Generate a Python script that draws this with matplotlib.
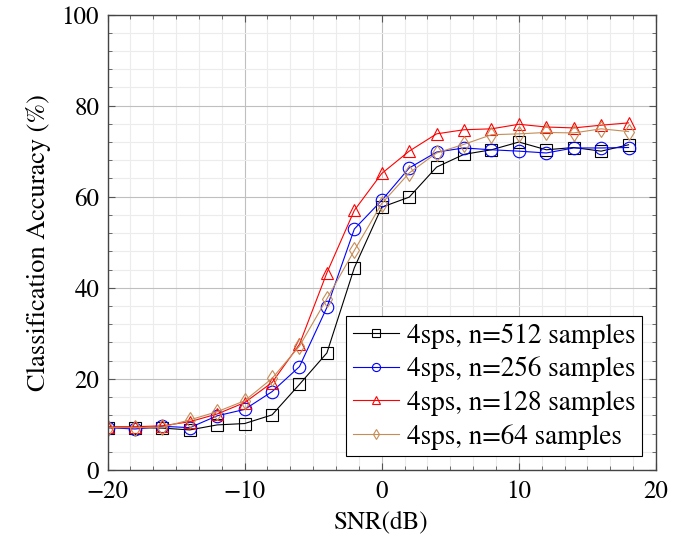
import numpy as np
import matplotlib.pyplot as plt
from matplotlib.ticker import MultipleLocator

plt.rcParams['font.family'] = ['STIXGeneral', 'DejaVu Serif']
plt.rcParams['mathtext.fontset'] = 'stix'

# SNR 取值 (dB)
snr = [-20, -18, -16, -14, -12, -10, -8, -6, -4, -2, 0, 2, 4, 6, 8, 10, 12, 14, 16, 18]

# 各样本长度下的分类准确率 (%)
acc_512 = [9.3, 9.3, 9.2, 8.8, 9.9, 10.2, 12.1, 18.8, 25.7, 44.4, 57.7, 59.9, 66.5, 69.3, 70.3, 72.0, 70.3, 70.8, 70.0, 71.4]
acc_256 = [9.3, 9.0, 9.6, 9.3, 11.9, 13.3, 17.2, 22.7, 35.7, 52.9, 59.2, 66.3, 69.8, 70.7, 70.3, 70.0, 69.6, 70.7, 70.7, 70.8]
acc_128 = [9.5, 9.5, 9.7, 10.6, 12.3, 14.8, 19.2, 27.6, 43.3, 57.0, 65.1, 70.0, 73.8, 74.7, 74.9, 75.9, 75.3, 75.1, 75.7, 76.2]
acc_64 = [9.3, 9.3, 9.4, 11.0, 12.8, 15.2, 20.1, 27.2, 37.6, 48.2, 58.5, 65.2, 69.6, 71.5, 73.6, 73.8, 74.1, 74.0, 74.9, 74.3]

labels = ['4sps, n=512 samples', '4sps, n=256 samples', '4sps, n=128 samples', '4sps, n=64 samples']
colors = ['black', 'blue', 'red', '#c68c55']
markers = ['s', 'o', '^', 'd']

fig = plt.figure(figsize=(6.97, 5.46), dpi=100)
ax = fig.add_axes([107.5 / 697, 1 - 470 / 546, (656 - 107.5) / 697, (470 - 14.5) / 546])

for y, lab, c, m in zip([acc_512, acc_256, acc_128, acc_64], labels, colors, markers):
    ms = 9 if m != 'd' else 8
    ax.plot(snr, y, color=c, lw=0.8, marker=m, ms=ms, mfc='none', mec=c, mew=0.8, label=lab)

ax.set_xlim(-20, 20)
ax.set_ylim(0, 100)
ax.xaxis.set_minor_locator(MultipleLocator(10 / 6))
ax.yaxis.set_minor_locator(MultipleLocator(4))
ax.set_xticks([-20, -10, 0, 10, 20])
ax.set_xticklabels(['\u221220', '\u221210', '0', '10', '20'])
ax.set_yticks([0, 20, 40, 60, 80, 100])
ax.set_yticklabels(['0', '20', '40', '60', '80', '100'])

ax.grid(which='major', color='#bfbfbf', lw=0.8)
ax.grid(which='minor', color='#ececec', lw=0.8)
ax.set_axisbelow(True)
ax.tick_params(which='both', direction='in', top=True, right=True, labelsize=18, color='#555555')
ax.tick_params(which='major', length=5)
ax.tick_params(axis='x', which='major', pad=7)
ax.tick_params(axis='y', which='major', pad=6)
ax.tick_params(which='minor', length=3)
for s in ax.spines.values():
    s.set_color('#444444')
    s.set_linewidth(1.0)

ax.set_xlabel('SNR(dB)', fontsize=18, labelpad=5)
ax.set_ylabel('Classification Accuracy (%)', fontsize=19, labelpad=8)

leg = ax.legend(loc='lower right', fontsize=19.5, fancybox=False, framealpha=1, edgecolor='black',
                handlelength=1.7, handletextpad=0.3, borderpad=0.25, labelspacing=0.3,
                borderaxespad=0.5, markerscale=0.65)
leg.get_frame().set_linewidth(0.8)

fig.savefig('out.png', dpi=100)
